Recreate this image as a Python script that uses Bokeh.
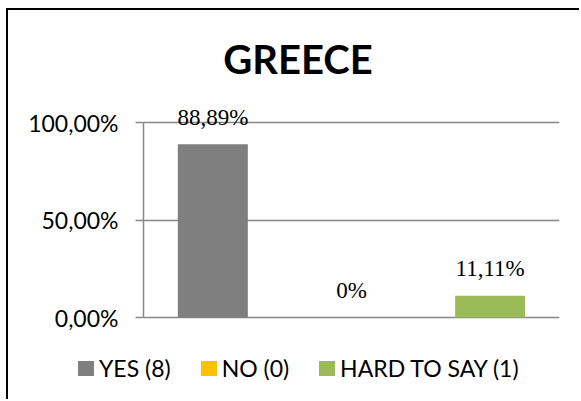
from bokeh.plotting import figure
from bokeh.layouts import column
from bokeh.models import (ColumnDataSource, FactorRange, FixedTicker, CustomJSTickFormatter,
                          LabelSet, Label, Div)
from bokeh.embed import file_html
from bokeh.resources import INLINE

categories = ["YES (8)", "NO (0)", "HARD TO SAY (1)"]
values = [0.8889, 0.0, 0.1111]
colors = ["#7F7F7F", "#FFC000", "#9BBB59"]
title_text = "GREECE"
y_ticks = [0, 0.5, 1.0]

def fmt(v):
    return "0%" if v == 0 else f"{v*100:.2f}".replace(".", ",") + "%"

labels = [fmt(v) for v in values]

src = ColumnDataSource(dict(cat=categories, val=values, color=colors, label=labels))

FONT = "Lato"
GRID = "#878787"

# ---- main chart (canvas origin at page (8, 10), inside the chart border)
p = figure(width=573, height=330, x_range=FactorRange(*categories, range_padding=0),
           y_range=(-0.1179, 1.5744), output_backend="svg", toolbar_location=None,
           x_axis_location=None,
           min_border_left=135, min_border_right=22, min_border_top=0, min_border_bottom=0)
p.margin = (8, 0, 0, 6)
p.styles = {"border-left": "2px solid black", "border-top": "2px solid black"}
p.title.visible = False
p.outline_line_color = None
p.background_fill_color = "white"
p.border_fill_color = "white"

r = p.vbar(x="cat", top="val", width=0.505, color="color", line_color=None, source=src)

p.yaxis.bounds = (0, 1)
p.yaxis.ticker = FixedTicker(ticks=y_ticks)
p.yaxis.formatter = CustomJSTickFormatter(code="return (tick*100).toFixed(2).replace('.', ',') + '%';")
p.yaxis.axis_line_color = GRID
p.yaxis.axis_line_width = 1.5
p.yaxis.major_tick_line_color = GRID
p.yaxis.major_tick_line_width = 1.5
p.yaxis.major_tick_in = 0
p.yaxis.major_tick_out = 8
p.yaxis.minor_tick_line_color = None
p.yaxis.major_label_standoff = 17
p.yaxis.major_label_text_font = FONT
p.yaxis.major_label_text_font_size = "23px"
p.yaxis.major_label_text_color = "black"

p.xgrid.grid_line_color = None
p.ygrid.ticker = FixedTicker(ticks=y_ticks)
p.ygrid.grid_line_color = GRID
p.ygrid.grid_line_width = 1.5

ls = LabelSet(x="cat", y="val", text="label", source=src, y_offset=27,
              text_align="center", text_baseline="middle",
              text_font=FONT, text_font_size="23px", text_color="black")
p.add_layout(ls)

t = Label(x=154.5, y=259 + 23, x_units="screen", y_units="screen", text=title_text,
          text_font=FONT, text_font_style="bold", text_font_size="40px",
          text_align="center", text_baseline="middle", text_color="black")
p.add_layout(t)

# ---- legend strip below the chart, built from the same categories and colours
items_html = "".join(
    f'<span style="display:inline-flex;align-items:center;margin-right:30px;white-space:nowrap">'
    f'<span style="display:inline-block;width:16px;height:15px;background:{c};margin-right:5px"></span>'
    f'<span>{lab}</span></span>'
    for lab, c in zip(categories, colors)
)
legend_html = (
    f'<div style="display:flex;align-items:center;height:61px;width:573px;box-sizing:border-box;'
    f'padding-left:70px;font-family:{FONT};font-size:23px;color:black;line-height:1;'
    f'white-space:nowrap;background:white">{items_html}</div>'
)
legend_div = Div(text=legend_html, width=573, height=61, margin=(0, 0, 0, 6),
                 styles={"border-left": "2px solid black", "overflow": "hidden"})

layout = column(p, legend_div, spacing=0)
open("out.html", "w").write(file_html(layout, INLINE))
